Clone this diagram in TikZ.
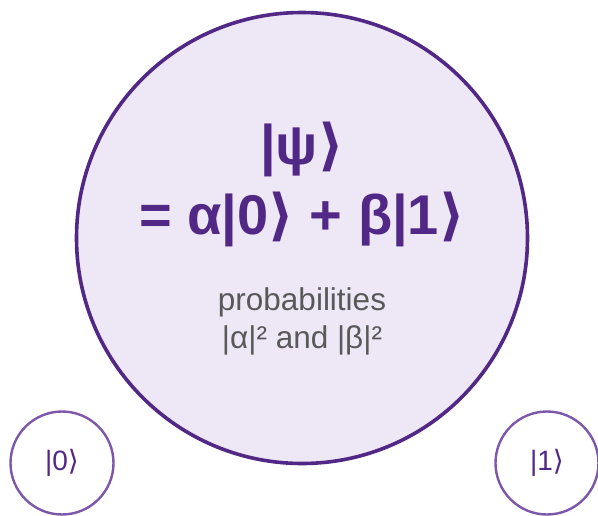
\documentclass[tikz,border=0pt]{standalone}
\usepackage{fontspec}
\setmainfont{Liberation Sans}
\newfontfamily\angfont{DejaVu Sans}
\usepackage{tikz}
\usetikzlibrary{positioning}
\definecolor{qpurple}{HTML}{522886}
\definecolor{qlilac}{HTML}{EEE7F6}
\definecolor{qring}{HTML}{7D58AA}
\definecolor{qgray}{HTML}{595959}
\newcommand{\ket}[1]{|#1{\angfont\char"27E9}}

\begin{document}
\begin{tikzpicture}[x=1pt, y=-1pt, every node/.style={align=center,inner sep=0pt},
    bigstate/.style={circle,draw=qpurple,line width=3.6pt,fill=qlilac,minimum size=451pt},
    basisring/.style={circle,draw=qring,line width=2.4pt,fill=white,minimum size=103pt,
      text=qpurple,font=\fontsize{28}{32}\selectfont}]
    \useasboundingbox (0,0) rectangle (598,515);
    \node[bigstate] (psi) at (302,238) {};
    \node[font=\bfseries\fontsize{56}{70}\selectfont,text=qpurple] (title) at (302,184)
      {\ket{ψ}\\= α\ket{0} + β\ket{1}};
    \node[font=\fontsize{31.5}{38}\selectfont,text=qgray] (prob) at (302,321)
      {probabilities\\|α|² and |β|²};
    \node[basisring] (zero) at (62,463) {\ket{0}};
    \node[basisring] (one) at (547,463) {\ket{1}};
  \end{tikzpicture}
\end{document}
